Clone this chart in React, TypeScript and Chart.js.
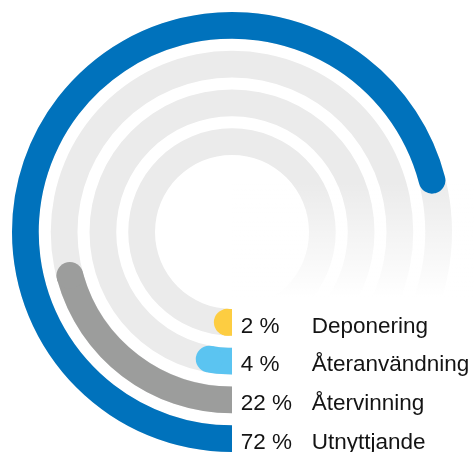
import React, { useEffect, useRef } from "react";
import { Chart, registerables } from "chart.js";

Chart.register(...registerables);

const categories = ["Utnyttjande", "Återvinning", "Återanvändning", "Deponering"];
const values = [72, 22, 4, 2];
const colors = ["#0072bc", "#9c9d9c", "#5bc4f1", "#fdcd41"];
const TRACK = "#ebebeb";
const FONT = '22.5px "Liberation Sans", Arial, sans-serif';

const RING_W = 26.7;
const GAP_W = 12;
const CAP_BACK = (4.2 * Math.PI) / 180;

export default function App() {
  const ref = useRef<HTMLCanvasElement | null>(null);

  useEffect(() => {
    const canvas = ref.current;
    if (!canvas) return;

    const datasets: any[] = [];
    const realIdx: number[] = [];
    values.forEach((v, i) => {
      if (i > 0) {
        datasets.push({
          data: [1],
          backgroundColor: ["rgba(0,0,0,0)"],
          borderWidth: 0,
          weight: GAP_W,
        });
      }
      realIdx.push(datasets.length);
      const half = RING_W / 2;
      datasets.push({
        label: categories[i],
        data: [v, 100 - v],
        backgroundColor: [colors[i], "rgba(0,0,0,0)"],
        borderWidth: 0,
        weight: RING_W,
        borderRadius: [
          { outerStart: 0, innerStart: 0, outerEnd: half, innerEnd: half },
          0,
        ],
      });
    });

    const plugin = {
      id: "radialDecor",
      beforeDatasetsDraw(chart: any) {
        const ctx = chart.ctx;
        let cx = 0,
          cy = 0;
        ctx.save();
        realIdx.forEach((di) => {
          const el = chart.getDatasetMeta(di).data[0];
          if (!el) return;
          cx = el.x;
          cy = el.y;
          ctx.beginPath();
          ctx.arc(el.x, el.y, el.outerRadius, 0, Math.PI * 2);
          ctx.arc(el.x, el.y, el.innerRadius, Math.PI * 2, 0, true);
          ctx.closePath();
          ctx.fillStyle = TRACK;
          ctx.fill();
        });
        // white fade behind labels
        const y0 = cy - 50;
        const y1 = cy + 65;
        const g = ctx.createLinearGradient(0, y0, 0, y1);
        g.addColorStop(0, "rgba(255,255,255,0)");
        g.addColorStop(1, "rgba(255,255,255,1)");
        ctx.fillStyle = g;
        ctx.fillRect(cx, y0, chart.width - cx, chart.height - y0);
        ctx.restore();
      },
      afterDatasetsDraw(chart: any) {
        const ctx = chart.ctx;
        // round end caps
        realIdx.forEach((di, i) => {
          const el = chart.getDatasetMeta(di).data[0];
          if (!el) return;
          const mid = (el.innerRadius + el.outerRadius) / 2;
          const half = (el.outerRadius - el.innerRadius) / 2;
          const capAng = half / mid;
          const a = el.endAngle - Math.min(capAng, CAP_BACK);
          ctx.save();
          ctx.beginPath();
          ctx.moveTo(el.x, el.y);
          ctx.arc(el.x, el.y, 1000, el.startAngle, el.startAngle + Math.PI);
          ctx.closePath();
          ctx.clip();
          ctx.beginPath();
          ctx.arc(el.x + mid * Math.cos(a), el.y + mid * Math.sin(a), half, 0, Math.PI * 2);
          ctx.fillStyle = colors[i];
          ctx.fill();
          ctx.restore();
        });

        ctx.save();
        ctx.font = FONT;
        ctx.fillStyle = "#141414";
        ctx.textBaseline = "alphabetic";
        ctx.textAlign = "left";
        realIdx.forEach((di, i) => {
          const el = chart.getDatasetMeta(di).data[0];
          if (!el) return;
          const mid = (el.innerRadius + el.outerRadius) / 2;
          const y = el.y + mid + 10.3;
          ctx.fillText(`${values[i]} %`, el.x + 8.7, y);
          ctx.fillText(categories[i], el.x + 79.7, y);
        });
        ctx.restore();
      },
    };

    const chart = new Chart(canvas, {
      type: "doughnut",
      data: { labels: ["value", "rest"], datasets },
      options: {
        responsive: false,
        animation: false,
        events: [],
        rotation: 180,
        circumference: 360,
        cutout: "35%",
        layout: { padding: { left: 12, top: 12, right: 22, bottom: 0 } },
        plugins: { legend: { display: false }, tooltip: { enabled: false } },
      } as any,
      plugins: [plugin],
    });
    return () => chart.destroy();
  }, []);

  return (
    <div style={{ position: "absolute", left: 0, top: 0, width: 474, height: 452 }}>
      <canvas ref={ref} width={474} height={452} style={{ width: 474, height: 452 }} />
    </div>
  );
}
